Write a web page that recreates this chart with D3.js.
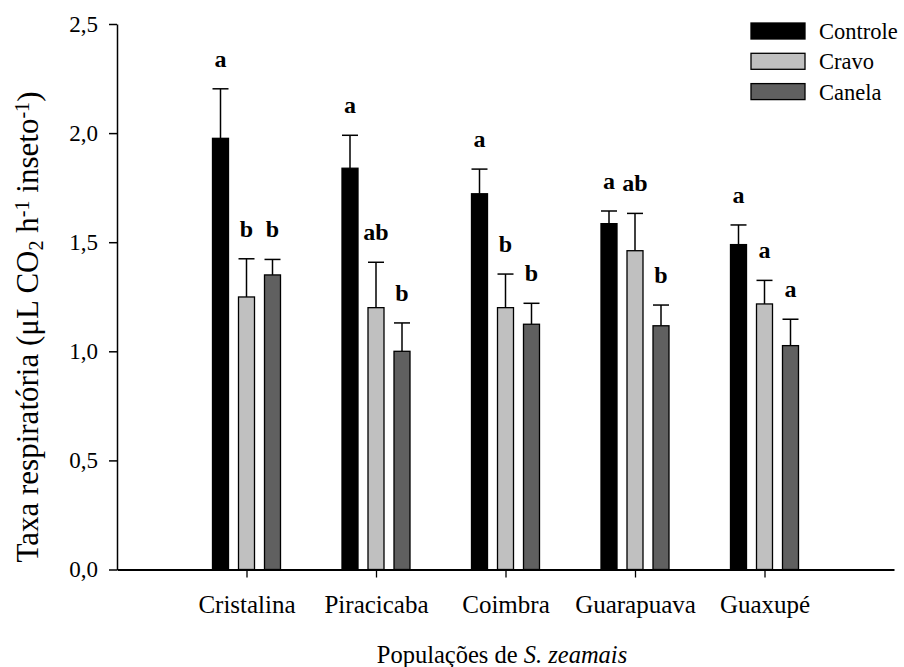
<!DOCTYPE html>
<html><head><meta charset="utf-8">
<script src="https://cdn.jsdelivr.net/npm/d3@7"></script>
<style>body{margin:0;background:#fff}svg{display:block}svg text{font-family:'Liberation Serif','Times New Roman',Times,'DejaVu Serif',serif !important}</style>
</head><body>
<svg id="chart" width="904" height="667"></svg>
<script>
const categories = ["Cristalina","Piracicaba","Coimbra","Guarapuava","Guaxupé"];
const seriesNames = ["Controle","Cravo","Canela"];
const controle = [1.976, 1.839, 1.722, 1.585, 1.489];
const controleErr = [0.227, 0.151, 0.113, 0.058, 0.090];
const cravo = [1.249, 1.200, 1.200, 1.461, 1.217];
const cravoErr = [0.175, 0.208, 0.154, 0.171, 0.108];
const canela = [1.350, 1.000, 1.124, 1.117, 1.026];
const canelaErr = [0.071, 0.130, 0.096, 0.095, 0.121];
const controleLetters = ["a","a","a","a","a"];
const cravoLetters = ["b","ab","b","ab","a"];
const canelaLetters = ["b","b","b","b","a"];
const yTicks = [0, 0.5, 1.0, 1.5, 2.0, 2.5];

const colors = ["#000000", "#c0c0c0", "#606060"];
const series = [
  {name: seriesNames[0], values: controle, err: controleErr, letters: controleLetters},
  {name: seriesNames[1], values: cravo, err: cravoErr, letters: cravoLetters},
  {name: seriesNames[2], values: canela, err: canelaErr, letters: canelaLetters}
];

const FONT = "'Liberation Serif','Times New Roman',Times,'DejaVu Serif',serif";
const svg = d3.select("#chart");
const x0 = 117, x1 = 894, yTop = 24, yBot = 569.5;
const x = d3.scalePoint().domain(categories).range([x0, x1]).padding(1);
const y = d3.scaleLinear().domain([0, 2.5]).range([yBot, yTop]);
const barW = 16, offset = 26;

// bars
series.forEach((s, si) => {
  const g = svg.append("g");
  const cx = c => x(c) + (si - 1) * offset;
  g.selectAll("line.err").data(categories).join("line")
    .attr("x1", c => cx(c)).attr("x2", c => cx(c))
    .attr("y1", (c, i) => y(s.values[i])).attr("y2", (c, i) => y(s.values[i] + s.err[i]))
    .attr("stroke", "#000").attr("stroke-width", 1.5);
  g.selectAll("line.cap").data(categories).join("line")
    .attr("x1", c => cx(c) - barW / 2).attr("x2", c => cx(c) + barW / 2)
    .attr("y1", (c, i) => y(s.values[i] + s.err[i])).attr("y2", (c, i) => y(s.values[i] + s.err[i]))
    .attr("stroke", "#000").attr("stroke-width", 1.5);
  g.selectAll("rect").data(categories).join("rect")
    .attr("x", c => cx(c) - barW / 2).attr("width", barW)
    .attr("y", (c, i) => y(s.values[i])).attr("height", (c, i) => y(0) - y(s.values[i]))
    .attr("fill", colors[si]).attr("stroke", "#000").attr("stroke-width", 1.3);
  g.selectAll("text").data(categories).join("text")
    .attr("x", c => cx(c)).attr("y", (c, i) => y(s.values[i] + s.err[i]) - 22)
    .attr("text-anchor", "middle").attr("font-weight", "bold").attr("font-size", 24)
    .attr("font-family", FONT)
    .text((c, i) => s.letters[i]);
});

// axes
const fmt = d => d3.format(".1f")(d).replace(".", ",");
const yAxis = svg.append("g").attr("transform", `translate(${x0},0)`)
  .call(d3.axisLeft(y).tickValues(yTicks).tickFormat(fmt).tickSize(8).tickSizeOuter(0).tickPadding(11));
yAxis.attr("font-family", FONT);
yAxis.select(".domain").attr("stroke-width", 1.5);
yAxis.selectAll(".tick line").attr("stroke-width", 1.5);
yAxis.selectAll(".tick text").attr("font-size", 23).attr("fill", "#000");

const xAxis = svg.append("g").attr("transform", `translate(0,${yBot})`)
  .call(d3.axisBottom(x).tickSize(8).tickSizeOuter(0).tickPadding(18));
xAxis.attr("font-family", FONT);
xAxis.select(".domain").attr("stroke-width", 2);
xAxis.selectAll(".tick line").attr("stroke-width", 1.3);
xAxis.selectAll(".tick text").attr("font-size", 25).attr("fill", "#000");

// x title
const xt = svg.append("text").attr("x", 502).attr("y", 663).attr("text-anchor", "middle")
  .attr("font-size", 24.5).attr("font-family", FONT);
xt.append("tspan").text("Populações de ");
xt.append("tspan").attr("font-style", "italic").text("S. zeamais");

// y title
const yt = svg.append("text").attr("transform", "translate(38,327) rotate(-90)").attr("text-anchor", "middle")
  .attr("font-size", 31).attr("font-family", FONT);
yt.append("tspan").text("Taxa respiratória (μL CO");
yt.append("tspan").attr("font-size", "0.65em").attr("dy", "0.25em").text("2");
yt.append("tspan").attr("dy", "-0.16em").text(" h");
yt.append("tspan").attr("font-size", "0.65em").attr("dy", "-0.45em").text("-1");
yt.append("tspan").attr("dy", "0.3em").text(" inseto");
yt.append("tspan").attr("font-size", "0.65em").attr("dy", "-0.45em").text("-1");
yt.append("tspan").attr("dy", "0.3em").text(")");

// legend
const lg = svg.append("g");
series.forEach((s, si) => {
  const top = 23 + si * 30.3;
  lg.append("rect").attr("x", 751).attr("y", top).attr("width", 54).attr("height", 16)
    .attr("fill", colors[si]).attr("stroke", "#000").attr("stroke-width", 1.3);
  lg.append("text").attr("x", 819).attr("y", top + 16).attr("font-size", 22.5).attr("font-family", FONT).text(s.name);
});
</script>
</body></html>
